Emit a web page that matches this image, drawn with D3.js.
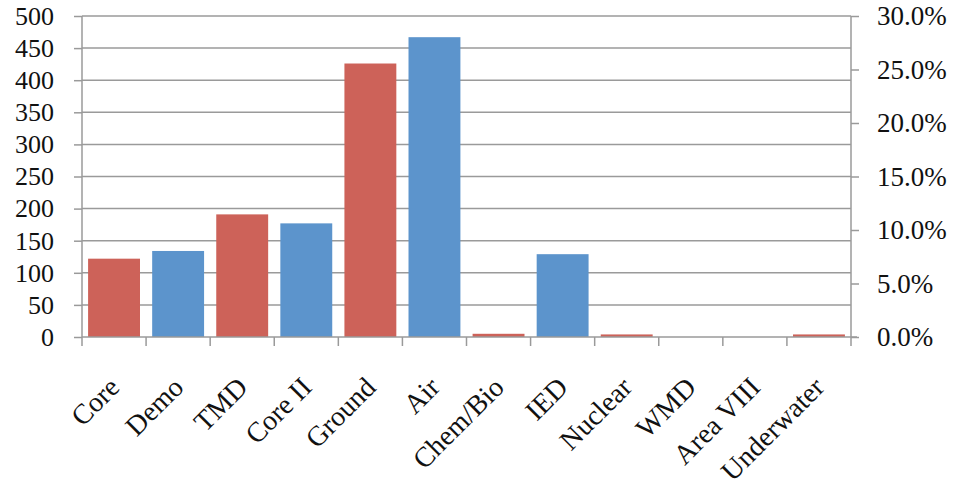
<!DOCTYPE html>
<html><head><meta charset="utf-8">
<script src="https://cdn.jsdelivr.net/npm/d3@7"></script>
<style>body{margin:0;background:#fff}svg{display:block}</style>
</head><body>
<svg id="c" width="957" height="490"></svg>
<script>
const categories = ["Core","Demo","TMD","Core II","Ground","Air","Chem/Bio","IED","Nuclear","WMD","Area VIII","Underwater"];
const values = [122, 134, 191, 177, 426, 467, 5, 129, 4, 0, 0, 4];
const groups = ["A","B","A","B","A","B","A","B","A","B","A","A"];
const leftTicks = [0,50,100,150,200,250,300,350,400,450,500];
const rightTicks = [0,0.05,0.10,0.15,0.20,0.25,0.30];

const svg = d3.select("#c");
const m = {l:82, r:851, t:16, b:337};
const x = d3.scaleBand().domain(categories).range([m.l, m.r]).paddingInner(0.19).paddingOuter(0.095);
const xb = d3.scaleBand().domain(categories).range([m.l, m.r]);
const y = d3.scaleLinear().domain([0,500]).range([m.b, m.t]);
const y2 = d3.scaleLinear().domain([0,0.30]).range([m.b, m.t]);
const color = d3.scaleOrdinal().domain(["A","B"]).range(["#CD6259","#5C94CC"]);
const font = "'Liberation Serif', 'DejaVu Serif', serif";
const axisCol = "#9a9a9a";

// gridlines
svg.append("g").selectAll("line").data(leftTicks.filter(d=>d>0)).join("line")
  .attr("x1", m.l).attr("x2", m.r).attr("y1", d=>y(d)).attr("y2", d=>y(d))
  .attr("stroke", axisCol).attr("stroke-width", 1.5);

// bars
svg.append("g").selectAll("rect").data(categories).join("rect")
  .attr("x", d=>x(d)).attr("width", x.bandwidth())
  .attr("y", (d,i)=>y(values[i])).attr("height", (d,i)=>y(0)-y(values[i]))
  .attr("fill", (d,i)=>color(groups[i]));

// left axis
const la = svg.append("g").attr("transform", `translate(${m.l},0)`)
  .call(d3.axisLeft(y).tickValues(leftTicks).tickSize(8).tickPadding(20).tickFormat(d3.format("d")));
la.select(".domain").attr("stroke", axisCol).attr("stroke-width",1.5).attr("d", `M0,${m.t}V${m.b}`);
la.selectAll(".tick line").attr("stroke", axisCol).attr("stroke-width",1.5);
la.selectAll("text").attr("font-family", font).attr("font-size", 26).attr("fill","#111");

// right axis
const ra = svg.append("g").attr("transform", `translate(${m.r},0)`)
  .call(d3.axisRight(y2).tickValues(rightTicks).tickSize(8).tickPadding(18).tickFormat(d3.format(".1%")));
ra.select(".domain").attr("stroke", axisCol).attr("stroke-width",1.5).attr("d", `M0,${m.t}V${m.b}`);
ra.selectAll(".tick line").attr("stroke", axisCol).attr("stroke-width",1.5);
ra.selectAll("text").attr("font-family", font).attr("font-size", 27).attr("fill","#111");

// bottom axis
const ba = svg.append("g").attr("transform", `translate(0,${m.b})`);
ba.append("line").attr("x1", m.l).attr("x2", m.r+6).attr("stroke", axisCol).attr("stroke-width",1.5);
const bounds = categories.map(c=>xb(c)).concat([m.r]);
ba.selectAll("line.tk").data(bounds).join("line").attr("class","tk")
  .attr("x1", d=>d).attr("x2", d=>d).attr("y1",0).attr("y2",9)
  .attr("stroke", axisCol).attr("stroke-width",1.5);
ba.selectAll("text").data(categories).join("text")
  .attr("transform", d=>`translate(${xb(d)+xb.bandwidth()/2+7},${52}) rotate(-45)`)
  .attr("text-anchor","end")
  .attr("font-family", font).attr("font-size", 28).attr("fill","#111")
  .text(d=>d);
</script>
</body></html>
